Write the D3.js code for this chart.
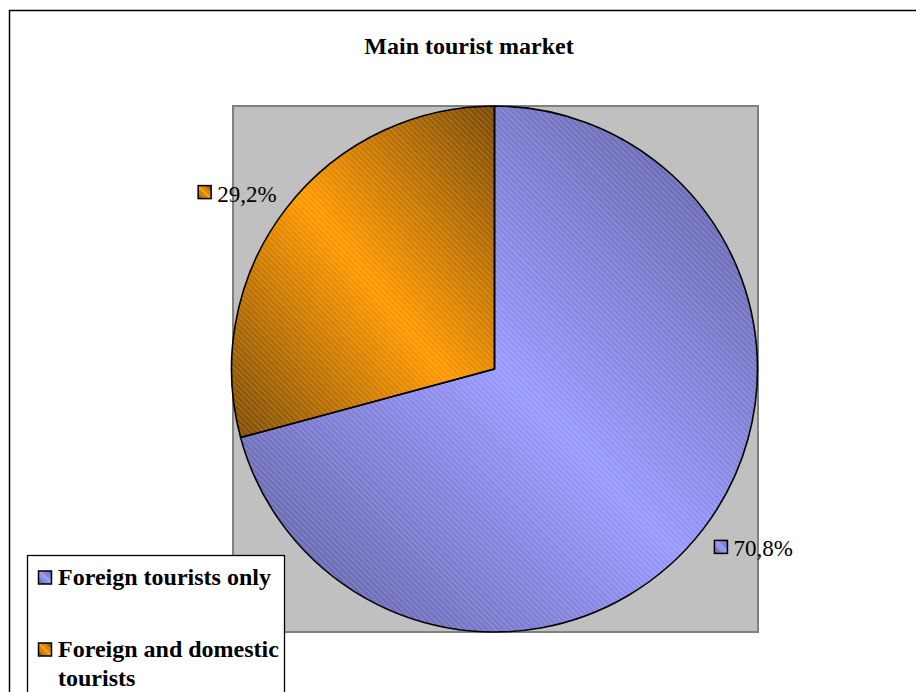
<!DOCTYPE html>
<html>
<head>
<meta charset="utf-8">
<script src="https://cdn.jsdelivr.net/npm/d3@7"></script>
<style>
  html, body { margin: 0; padding: 0; background: #fff; }
  svg { display: block; }
</style>
</head>
<body>
<svg id="chart" width="916" height="692"></svg>
<script>
// Main tourist market — share of respondents by market served
const categories = ["Foreign tourists only", "Foreign and domestic tourists"];
const values = [70.8, 29.2];
const lightColors = ["#9999FF", "#FF9900"];
const darkColors = ["#5B5B99", "#7A4A06"];
const chartTitle = "Main tourist market";

const W = 916, H = 692;
const svg = d3.select("#chart");
const serif = "'Liberation Serif', 'Times New Roman', serif";

// Gradient fills (dark corners, light diagonal band) and a fine diagonal hatch
const defs = svg.append("defs");
categories.forEach((c, i) => {
  const g = defs.append("linearGradient")
    .attr("id", "grad" + i)
    .attr("x1", 1).attr("y1", 0).attr("x2", 0).attr("y2", 1);
  g.append("stop").attr("offset", 0).attr("stop-color", darkColors[i]);
  g.append("stop").attr("offset", 0.5).attr("stop-color", lightColors[i]);
  g.append("stop").attr("offset", 1).attr("stop-color", darkColors[i]);
});
const hatch = defs.append("pattern")
  .attr("id", "hatch")
  .attr("patternUnits", "userSpaceOnUse")
  .attr("width", 4).attr("height", 4)
  .attr("patternTransform", "rotate(-45)");
hatch.append("rect").attr("x", 0).attr("y", 0).attr("width", 1).attr("height", 4)
  .attr("fill", "#fff").attr("opacity", 0.18);

// Chart area frame
svg.append("rect")
  .attr("x", 9.5).attr("y", 10.5).attr("width", W + 20).attr("height", H + 20)
  .attr("fill", "#fff").attr("stroke", "#000").attr("stroke-width", 1.5);

// Title
svg.append("text")
  .attr("x", 469).attr("y", 54)
  .attr("text-anchor", "middle")
  .attr("font-family", serif).attr("font-weight", "bold").attr("font-size", 24)
  .attr("fill", "#000")
  .text(chartTitle);

// Plot area
const plot = { x: 233, y: 106, w: 525, h: 526 };
svg.append("rect")
  .attr("x", plot.x).attr("y", plot.y).attr("width", plot.w).attr("height", plot.h)
  .attr("fill", "#C0C0C0").attr("stroke", "#808080").attr("stroke-width", 2);

const cx = 494.5, cy = 369, r = 263;
const pie = d3.pie().sort(null).value(d => d)(values);
const arc = d3.arc().innerRadius(0).outerRadius(r);
const labelArc = d3.arc().innerRadius(r + 14).outerRadius(r + 14);

const pg = svg.append("g").attr("transform", `translate(${cx},${cy})`);
pg.selectAll("path.slice").data(pie).join("path")
  .attr("class", "slice")
  .attr("d", arc)
  .attr("fill", (d, i) => `url(#grad${i})`);
pg.selectAll("path.hatch").data(pie).join("path")
  .attr("class", "hatch")
  .attr("d", arc)
  .attr("fill", "url(#hatch)");
pg.selectAll("path.edge").data(pie).join("path")
  .attr("class", "edge")
  .attr("d", arc)
  .attr("fill", "none")
  .attr("stroke", "#000").attr("stroke-width", 1.6)
  .attr("stroke-linejoin", "round");

// Key square with fill and hatch
function keySquare(sel, x, y, i) {
  sel.append("rect").attr("x", x).attr("y", y).attr("width", 13).attr("height", 13)
    .attr("fill", `url(#grad${i})`);
  sel.append("rect").attr("x", x).attr("y", y).attr("width", 13).attr("height", 13)
    .attr("fill", "url(#hatch)").attr("stroke", "#000").attr("stroke-width", 1.5);
}

// Data labels outside the pie at each slice's mid angle
const fmt = v => d3.format(".1f")(v).replace(".", ",") + "%";
pie.forEach((d, i) => {
  const [lx, ly] = labelArc.centroid(d);
  const px = cx + lx, py = cy + ly;
  const g = svg.append("g");
  const t = g.append("text")
    .attr("font-family", serif).attr("font-size", 23).attr("fill", "#000")
    .text(fmt(values[i]));
  const tw = t.node().getComputedTextLength();
  const total = 13 + 6 + tw;
  let x0, baseline;
  if (px >= cx) { x0 = px; baseline = py + 19; }
  else { x0 = px - total + 2; baseline = py + 1; }
  t.attr("x", x0 + 19).attr("y", baseline);
  keySquare(g, x0, baseline - 16, i);
});

// Legend
const legend = svg.append("g");
legend.append("rect")
  .attr("x", 27.5).attr("y", 555.5).attr("width", 257).attr("height", 160)
  .attr("fill", "#fff").attr("stroke", "#000").attr("stroke-width", 1.3);

const legendBaselines = [585, 657];
const lineGap = 29;
const maxTextW = 222;
categories.forEach((c, i) => {
  const g = legend.append("g");
  keySquare(g, 38.5, legendBaselines[i] - 14, i);
  const t = g.append("text")
    .attr("font-family", serif).attr("font-weight", "bold").attr("font-size", 24)
    .attr("fill", "#000");
  // wrap words into lines that fit the legend
  const words = c.split(" ");
  let line = [], lineNo = 0;
  let tspan = t.append("tspan").attr("x", 58).attr("y", legendBaselines[i]);
  words.forEach(w => {
    line.push(w);
    tspan.text(line.join(" "));
    if (tspan.node().getComputedTextLength() > maxTextW && line.length > 1) {
      line.pop();
      tspan.text(line.join(" "));
      line = [w];
      lineNo += 1;
      tspan = t.append("tspan").attr("x", 58)
        .attr("y", legendBaselines[i] + lineNo * lineGap).text(w);
    }
  });
});
</script>
</body>
</html>
